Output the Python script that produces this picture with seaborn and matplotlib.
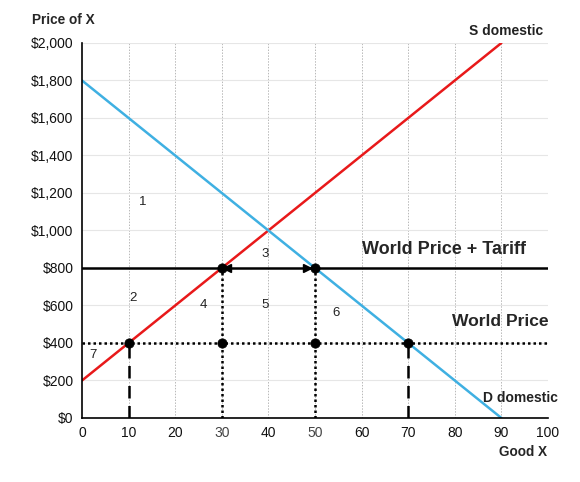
import numpy as np
import matplotlib.pyplot as plt
import seaborn as sns
from matplotlib.ticker import FuncFormatter

sns.set_style('white')
plt.rcParams['font.family'] = ['Liberation Sans', 'DejaVu Sans']

# data
supply_q = [0, 90]
supply_p = [200, 2000]
demand_q = [0, 90]
demand_p = [1800, 0]
world_price = 400
tariff_price = 800
pts_q = [10, 30, 50, 70, 30, 50]
pts_p = [400, 400, 400, 400, 800, 800]
area_labels = ['1', '2', '3', '4', '5', '6', '7']
area_q = [13, 11, 39.3, 26, 39.3, 54.5, 2.4]
area_p = [1150, 640, 875, 600, 600, 560, 336]
x_ticks = list(range(0, 101, 10))
y_ticks = list(range(0, 2001, 200))

fig = plt.figure(figsize=(5.8, 4.82), dpi=100)
ax = fig.add_axes([0.1414, 0.1328, 0.8034, 0.778])

# grid
for x in x_ticks[1:]:
    ax.axvline(x, color='#b8b8b8', lw=0.7, ls=(0, (1.5, 1.5)), zorder=0)
for y in y_ticks[1:]:
    ax.axhline(y, color='#e6e6e6', lw=0.8, zorder=0)

sns.lineplot(x=supply_q, y=supply_p, ax=ax, color='#e8191a', lw=1.8)
sns.lineplot(x=demand_q, y=demand_p, ax=ax, color='#3fb0e2', lw=1.8)

# price lines
ax.plot([0, 100], [tariff_price, tariff_price], color='black', lw=1.8, zorder=3)
ax.plot([0, 100], [world_price, world_price], color='black', lw=1.8, ls=(0, (1, 1.2)), zorder=3)

# drop lines
for q in (30, 50):
    ax.plot([q, q], [0, tariff_price], color='black', lw=1.8, ls=(0, (1, 1.2)), zorder=3)
for q in (10, 70):
    ax.plot([q, q], [0, world_price], color='black', lw=1.8, ls=(0, (5, 3)), zorder=3)

sns.scatterplot(x=pts_q, y=pts_p, ax=ax, color='black', s=45, zorder=5, edgecolor='black')
ax.plot([31.2], [tariff_price], marker='<', color='black', ms=6, zorder=5)
ax.plot([48.3], [tariff_price], marker='>', color='black', ms=6, zorder=5)

for lbl, q, p in zip(area_labels, area_q, area_p):
    ax.text(q, p, lbl, ha='center', va='center', fontsize=9.5, color='#222222')

ax.text(77.6, 900, 'World Price + Tariff', ha='center', va='center', fontsize=13, fontweight='bold')
ax.text(89.8, 512, 'World Price', ha='center', va='center', fontsize=12.6, fontweight='bold')
ax.text(91, 2025, 'S domestic', ha='center', va='bottom', fontsize=10, fontweight='bold', color='#222222')
ax.text(94, 107, 'D domestic', ha='center', va='center', fontsize=10, fontweight='bold', color='#222222')

ax.set_xlim(0, 100)
ax.set_ylim(0, 2000)
ax.set_xticks(x_ticks)
ax.set_yticks(y_ticks)
ax.yaxis.set_major_formatter(FuncFormatter(lambda v, _: '${:,.0f}'.format(v)))
ax.tick_params(labelsize=10, length=0, pad=6, colors='#111111')
for t in ax.get_xticklabels():
    if t.get_text() in ('30', '50'):
        t.set_color('#444444')

sns.despine(ax=ax)
for s in ('left', 'bottom'):
    ax.spines[s].set_color('black')
    ax.spines[s].set_linewidth(1.2)

fig.text(32 / 580, 1 - 20 / 482, 'Price of X', ha='left', va='center', fontsize=9.8, fontweight='bold')
fig.text(547 / 580, 1 - 452 / 482, 'Good X', ha='right', va='center', fontsize=9.8, fontweight='bold')

fig.savefig('out.png', dpi=100)
